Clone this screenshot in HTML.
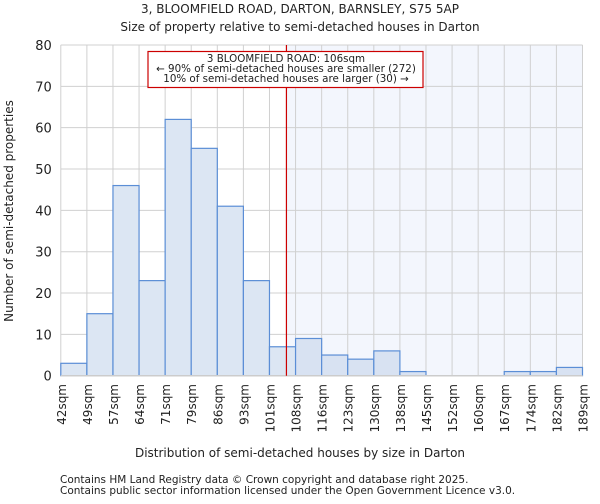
<!DOCTYPE html>
<html><head><meta charset="utf-8"><style>
body{margin:0;background:#fff;font-family:"DejaVu Sans","Liberation Sans",sans-serif}
svg text{font-family:"DejaVu Sans","Liberation Sans",sans-serif;fill:#222}
</style></head><body>
<svg id="c" width="600" height="500" xmlns="http://www.w3.org/2000/svg">
<text x="300" y="13" text-anchor="middle" font-size="12">3, BLOOMFIELD ROAD, DARTON, BARNSLEY, S75 5AP</text>
<text x="300" y="31" text-anchor="middle" font-size="12">Size of property relative to semi-detached houses in Darton</text>
<g id="plot"></g>
<text x="300" y="457" text-anchor="middle" font-size="12">Distribution of semi-detached houses by size in Darton</text>
<text transform="translate(13,211) rotate(-90)" text-anchor="middle" font-size="12">Number of semi-detached properties</text>
<text x="60" y="483" font-size="10.5" fill="#444">Contains HM Land Registry data © Crown copyright and database right 2025.</text>
<text x="60" y="494" font-size="10.5" fill="#444">Contains public sector information licensed under the Open Government Licence v3.0.</text>
</svg>
<script>
const binLabels=["42sqm","49sqm","57sqm","64sqm","71sqm","79sqm","86sqm","93sqm","101sqm","108sqm","116sqm","123sqm","130sqm","138sqm","145sqm","152sqm","160sqm","167sqm","174sqm","182sqm","189sqm"];
const counts=[3,15,46,23,62,55,41,23,7,9,5,4,6,1,0,0,0,1,1,2];
const yTicks=[0,10,20,30,40,50,60,70,80];
const markerValue=8.65; // bin-index position of 106sqm
const NS="http://www.w3.org/2000/svg";
const X0=60.8,X1=582.5,Y0=375.7,Y1=45;
const nb=counts.length;
const xs=i=>X0+(X1-X0)*i/nb;
const ys=v=>Y0-(Y0-Y1)*v/80;
const g=document.getElementById('plot');
function mk(t,a,p){const e=document.createElementNS(NS,t);for(const k in a)e.setAttribute(k,a[k]);(p||g).appendChild(e);return e;}
const mx=xs(markerValue);
const bg=mk('rect',{x:mx,y:Y1,width:X1-mx,height:Y0-Y1,fill:'#f3f6fd'});


for(let i=0;i<=nb;i++){const l=mk('line',{x1:xs(i),x2:xs(i),y1:Y1,y2:Y0,stroke:'#d0d0d0','stroke-width':1});

}
yTicks.forEach(v=>{const l=mk('line',{x1:X0,x2:X1,y1:ys(v),y2:ys(v),stroke:'#d0d0d0','stroke-width':1});


const t=mk('text',{x:X0-9,y:ys(v)+5,'text-anchor':'end','font-size':13});t.textContent=v;

});
counts.forEach((c,i)=>{if(c<=0)return;const r=mk('rect',{x:xs(i),y:ys(c),width:xs(i+1)-xs(i),height:Y0-ys(c),fill:i>=9?'#d8e2f2':'#dce6f3',stroke:'#5b8ed6','stroke-width':1.2});

});
binLabels.forEach((s,i)=>{const t=mk('text',{transform:`translate(${xs(i)+5},384) rotate(-90)`,'text-anchor':'end','font-size':12});t.textContent=s;

});
const ax=mk('line',{x1:X0,x2:X1,y1:Y0,y2:Y0,stroke:'#ccc','stroke-width':1.5});


const ml=mk('line',{x1:mx,x2:mx,y1:Y1,y2:Y0,stroke:'#c00','stroke-width':1.2});


const box=mk('rect',{x:148,y:51.5,width:275,height:36,fill:'#fff',stroke:'#c00','stroke-width':1.2});


["3 BLOOMFIELD ROAD: 106sqm","← 90% of semi-detached houses are smaller (272)","10% of semi-detached houses are larger (30) →"].forEach((s,i)=>{const t=mk('text',{x:286,y:62+i*10,'text-anchor':'middle','font-size':10.3});t.textContent=s;

});
</script>
</body></html>
